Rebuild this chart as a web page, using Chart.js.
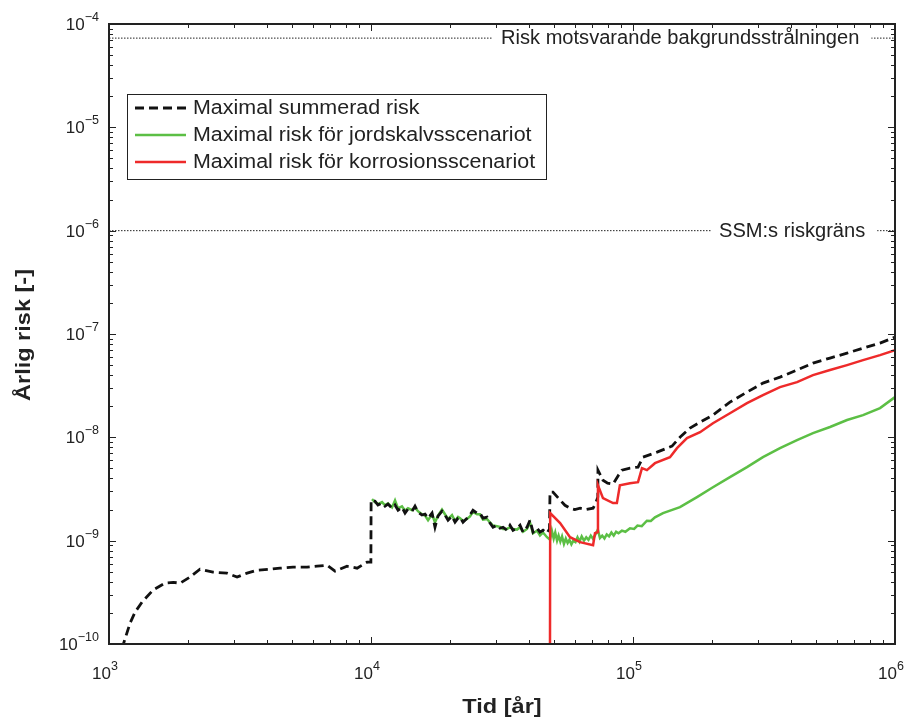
<!DOCTYPE html>
<html>
<head>
<meta charset="utf-8">
<script src="https://cdn.jsdelivr.net/npm/chart.js@4"></script>
<style>
  body { margin: 0; background: #fff; }
  canvas { display: block; }
</style>
</head>
<body>
<canvas id="riskChart" width="908" height="719"></canvas>
<script>
// Maximal summerad risk (black dashed)
const tSum = [1120, 1203, 1257, 1336, 1472, 1636, 1760, 1868, 2038, 2224, 2494, 2820, 3082, 3366, 3675, 4119, 4497, 5038, 5700, 6224, 6795, 7290, 8100, 8850, 9660, 9990,
  10010, 10090, 10360, 10630, 11020, 11310, 11610, 12030, 12350, 12680, 13130, 13490, 13840, 14340, 14720, 15110, 15650, 16080, 16510, 17100, 17550, 18020, 18660, 19160, 19680,
  20380, 20930, 21490, 21870, 22450, 23250, 23870, 24510, 25390, 26060, 26760, 27720, 28460, 29220, 30260, 31070, 31900, 33040, 33920, 34840, 36080, 37050, 38040, 39390,
  40450, 41530, 43020, 44160, 45350, 46970, 48000, 48220, 49500, 52700, 55000, 57500, 60000, 62800, 66000, 70400, 72000, 73400, 73500, 76800, 80000, 83900,
  88000, 90700, 97400, 104500, 109200, 123500, 140900, 151100, 165100, 180300, 201900, 234400, 272300, 313300, 364000, 422700, 486400, 564900, 656100, 755100, 876800, 1000000];
const rSum = [0.9e-10, 1.59e-10, 2.03e-10, 2.54e-10, 3.32e-10, 3.88e-10, 3.95e-10, 3.88e-10, 4.44e-10, 5.30e-10, 4.96e-10, 4.85e-10, 4.44e-10, 4.85e-10, 5.18e-10, 5.30e-10, 5.42e-10, 5.54e-10, 5.54e-10, 5.66e-10, 5.79e-10, 5.07e-10, 5.66e-10, 5.42e-10, 6.19e-10, 6.19e-10,
  2.47e-9, 2.47e-9, 2.41e-9, 2.21e-9, 2.31e-9, 2.16e-9, 2.26e-9, 2.06e-9, 2.21e-9, 1.97e-9, 2.11e-9, 1.85e-9, 2.02e-9, 1.93e-9, 2.16e-9, 1.89e-9, 1.77e-9, 1.81e-9, 1.65e-9, 1.85e-9, 1.35e-9, 1.73e-9, 1.93e-9, 1.77e-9, 1.58e-9,
  1.73e-9, 1.51e-9, 1.65e-9, 1.69e-9, 1.51e-9, 1.65e-9, 1.77e-9, 1.97e-9, 1.85e-9, 1.85e-9, 1.65e-9, 1.69e-9, 1.48e-9, 1.35e-9, 1.41e-9, 1.32e-9, 1.35e-9, 1.26e-9, 1.41e-9, 1.26e-9, 1.32e-9, 1.41e-9, 1.21e-9, 1.35e-9,
  1.58e-9, 1.21e-9, 1.32e-9, 1.21e-9, 1.26e-9, 1.18e-9, 1.30e-9, 2.95e-9, 2.95e-9, 2.47e-9, 2.2e-9, 2.06e-9, 2.0e-9, 2.06e-9, 2.0e-9, 2.06e-9, 2.3e-9, 2.64e-9, 4.81e-9, 3.85e-9, 3.6e-9, 3.52e-9,
  4.3e-9, 4.81e-9, 5.03e-9, 5.15e-9, 6.43e-9, 7.19e-9, 8.22e-9, 1.0e-8, 1.23e-8, 1.40e-8, 1.64e-8, 2.19e-8, 2.74e-8, 3.35e-8, 3.83e-8, 4.48e-8, 5.23e-8, 5.85e-8, 6.53e-8, 7.30e-8, 8.17e-8, 9.33e-8];

// Maximal risk för jordskalvsscenariot (green)
const tQuake = [10090, 10360, 10630, 11020, 11310, 11610, 12030, 12350, 12680, 13130, 13490, 13840, 14340, 14720, 15110, 15650, 16080, 16510, 17100, 17550, 18020, 18660, 19160, 19680,
  20380, 20930, 21490, 21870, 22450, 23250, 23870, 24510, 25390, 26060, 26760, 27720, 28460, 29220, 30260, 31070, 31900, 33040, 33920, 34840, 36080, 37050, 38040, 39390,
  40450, 41530, 43020, 44160, 45350, 46970, 48220, 49000, 49800, 50500, 51300, 52000, 52800, 53600, 54500, 55400, 56300, 57200, 58200, 59200, 60300, 61400, 62500, 63700,
  65000, 66300, 67600, 69000, 70400, 71800, 73400, 74800, 76300, 77800, 79400, 81000, 82700, 84400, 86200, 88000, 90700, 93500, 97400, 101000, 104000, 108000, 113000, 117000,
  121300, 130200, 151100, 175500, 201900, 234400, 272300, 313300, 364000, 422700, 486400, 564900, 656100, 755100, 876800, 1000000];
const rQuake = [2.52e-9, 2.35e-9, 2.26e-9, 2.36e-9, 2.2e-9, 2.3e-9, 2.1e-9, 2.45e-9, 2.05e-9, 2.15e-9, 1.95e-9, 2.06e-9, 1.97e-9, 2.1e-9, 1.93e-9, 1.8e-9, 1.75e-9, 1.58e-9, 1.8e-9, 1.5e-9, 1.75e-9, 2.0e-9, 1.8e-9, 1.62e-9,
  1.77e-9, 1.55e-9, 1.7e-9, 1.65e-9, 1.55e-9, 1.62e-9, 1.72e-9, 1.9e-9, 1.8e-9, 1.8e-9, 1.6e-9, 1.62e-9, 1.5e-9, 1.4e-9, 1.38e-9, 1.36e-9, 1.3e-9, 1.3e-9, 1.35e-9, 1.3e-9, 1.28e-9, 1.35e-9, 1.22e-9, 1.3e-9,
  1.5e-9, 1.18e-9, 1.25e-9, 1.12e-9, 1.2e-9, 1.08e-9, 1.02e-9, 1.25e-9, 1.05e-9, 1.2e-9, 1.0e-9, 1.12e-9, 0.98e-9, 1.1e-9, 0.93e-9, 1.05e-9, 0.95e-9, 1.02e-9, 0.92e-9, 1.0e-9, 0.97e-9, 1.08e-9, 0.98e-9, 1.1e-9,
  1.0e-9, 1.08e-9, 1.02e-9, 1.12e-9, 1.04e-9, 1.14e-9, 1.28e-9, 1.06e-9, 1.12e-9, 1.05e-9, 1.15e-9, 1.1e-9, 1.2e-9, 1.12e-9, 1.22e-9, 1.18e-9, 1.25e-9, 1.22e-9, 1.32e-9, 1.3e-9, 1.4e-9, 1.38e-9, 1.56e-9, 1.55e-9,
  1.68e-9, 1.85e-9, 2.11e-9, 2.64e-9, 3.29e-9, 4.12e-9, 5.15e-9, 6.43e-9, 7.86e-9, 9.40e-9, 1.10e-8, 1.26e-8, 1.47e-8, 1.64e-8, 1.92e-8, 2.45e-8];

// Maximal risk för korrosionsscenariot (red)
const tCorr = [48200, 48300, 52700, 57500, 62800, 70400, 71600, 73400, 73500, 76800, 83900, 86800, 89100, 97400, 104500, 108200, 113000, 121300, 138400, 147200, 160700, 180300,
  201900, 234400, 272300, 313300, 364000, 422700, 486400, 564900, 656100, 755100, 876800, 1000000];
const rCorr = [5e-11, 1.85e-9, 1.48e-9, 1.08e-9, 9.68e-10, 9.04e-10, 1.18e-9, 1.21e-9, 3.44e-9, 2.58e-9, 2.31e-9, 2.31e-9, 3.44e-9, 3.60e-9, 3.68e-9, 5.03e-9, 4.81e-9, 5.62e-9, 6.43e-9, 7.86e-9, 9.82e-9, 1.12e-8,
  1.37e-8, 1.71e-8, 2.14e-8, 2.56e-8, 3.06e-8, 3.42e-8, 4.00e-8, 4.48e-8, 5.00e-8, 5.59e-8, 6.25e-8, 6.98e-8];

// reference levels
const refLabels = ['Risk motsvarande bakgrundsstrålningen', 'SSM:s riskgräns'];
const refValues = [7.3e-5, 1e-6];

const seriesNames = ['Maximal summerad risk', 'Maximal risk för jordskalvsscenariot', 'Maximal risk för korrosionsscenariot'];
const xExps = [3, 4, 5, 6];
const yExps = [-4, -5, -6, -7, -8, -9, -10];

const toPts = (t, r) => t.map((v, i) => ({ x: v, y: r[i] }));
const FONT = '"Liberation Sans", Arial, sans-serif';

// text with a little horizontal stretch, like the original figure
function wideText(ctx, txt, x, y, sx) {
  ctx.save();
  ctx.translate(x, y);
  ctx.scale(sx, 1);
  ctx.fillText(txt, 0, 0);
  ctx.restore();
}

const framePlugin = {
  id: 'frame',
  afterDatasetsDraw(chart) {
    const ctx = chart.ctx;
    const a = chart.chartArea;
    const xs = chart.scales.x, ys = chart.scales.y;
    ctx.save();

    // reference line labels on white
    ctx.font = '19.5px ' + FONT;
    ctx.textBaseline = 'middle';
    ctx.textAlign = 'left';
    const refStart = [501, 719];
    refLabels.forEach((lab, i) => {
      const y = ys.getPixelForValue(refValues[i]);
      const w = ctx.measureText(lab).width * 1.03;
      ctx.fillStyle = '#fff';
      ctx.fillRect(refStart[i] - 8, y - 10, w + 20, 20);
      ctx.fillStyle = '#222';
      wideText(ctx, lab, refStart[i], y + 1, 1.03);
    });

    // ticks inward on all sides
    ctx.strokeStyle = '#222';
    ctx.lineWidth = 1;
    ctx.beginPath();
    for (let e = 3; e < 6; e++) {
      for (let m = 1; m < 10; m++) {
        const px = Math.round(xs.getPixelForValue(m * Math.pow(10, e))) + 0.5;
        const len = m === 1 ? 7 : 4;
        ctx.moveTo(px, a.bottom); ctx.lineTo(px, a.bottom - len);
        ctx.moveTo(px, a.top); ctx.lineTo(px, a.top + len);
      }
    }
    for (let e = -10; e < -4; e++) {
      for (let m = 1; m < 10; m++) {
        const py = Math.round(ys.getPixelForValue(m * Math.pow(10, e))) + 0.5;
        const len = m === 1 ? 7 : 4;
        ctx.moveTo(a.left, py); ctx.lineTo(a.left + len, py);
        ctx.moveTo(a.right, py); ctx.lineTo(a.right - len, py);
      }
    }
    ctx.stroke();

    // frame
    ctx.lineWidth = 2;
    ctx.strokeRect(a.left, a.top, a.right - a.left, a.bottom - a.top);

    // tick labels
    ctx.fillStyle = '#222';
    ctx.textBaseline = 'alphabetic';
    yExps.forEach(e => {
      const py = ys.getPixelForValue(Math.pow(10, e));
      ctx.font = '12.5px ' + FONT;
      const sup = '\u2212' + Math.abs(e);
      const sw = ctx.measureText(sup).width;
      ctx.textAlign = 'right';
      ctx.fillText(sup, a.left - 10, py - 3);
      ctx.font = '17px ' + FONT;
      ctx.fillText('10', a.left - 10 - sw, py + 6);
    });
    xExps.forEach(e => {
      const px = xs.getPixelForValue(Math.pow(10, e));
      ctx.font = '17px ' + FONT;
      ctx.textAlign = 'right';
      ctx.fillText('10', px + 2, a.bottom + 35);
      ctx.font = '12.5px ' + FONT;
      ctx.textAlign = 'left';
      ctx.fillText(String(e), px + 2, a.bottom + 26);
    });

    // axis titles
    ctx.font = 'bold 21px ' + FONT;
    ctx.textAlign = 'center';
    wideText(ctx, 'Tid [år]', (a.left + a.right) / 2, 713, 1.12);
    ctx.save();
    ctx.translate(30, 335);
    ctx.rotate(-Math.PI / 2);
    ctx.scale(1.12, 1);
    ctx.fillText('Årlig risk [-]', 0, 0);
    ctx.restore();

    // legend
    ctx.fillStyle = '#fff';
    ctx.fillRect(127, 94, 419, 85);
    ctx.lineWidth = 1;
    ctx.strokeStyle = '#222';
    ctx.strokeRect(127.5, 94.5, 419, 85);
    const ds = chart.data.datasets;
    [0, 1, 2].forEach(i => {
      const y = 108 + i * 27;
      ctx.strokeStyle = ds[i].borderColor;
      ctx.lineWidth = ds[i].borderWidth;
      ctx.setLineDash(ds[i].borderDash || []);
      ctx.beginPath();
      ctx.moveTo(135, y); ctx.lineTo(186, y);
      ctx.stroke();
      ctx.setLineDash([]);
      ctx.fillStyle = '#222';
      ctx.font = '19.5px ' + FONT;
      ctx.textAlign = 'left';
      ctx.textBaseline = 'middle';
      wideText(ctx, seriesNames[i], 193, y + 1, 1.1);
    });
    ctx.restore();
  }
};

new Chart(document.getElementById('riskChart'), {
  type: 'line',
  data: {
    datasets: [
      { label: seriesNames[0], data: toPts(tSum, rSum), borderColor: '#111', borderWidth: 2.8, borderDash: [9, 5], order: 2 },
      { label: seriesNames[1], data: toPts(tQuake, rQuake), borderColor: '#5cbf45', borderWidth: 2.5, order: 3 },
      { label: seriesNames[2], data: toPts(tCorr, rCorr), borderColor: '#ee2a2a', borderWidth: 2.5, order: 1 },
      { label: refLabels[0], data: [{ x: 1000, y: refValues[0] }, { x: 1e6, y: refValues[0] }], borderColor: '#222', borderWidth: 1, borderDash: [1.5, 1.5], order: 5 },
      { label: refLabels[1], data: [{ x: 1000, y: refValues[1] }, { x: 1e6, y: refValues[1] }], borderColor: '#222', borderWidth: 1, borderDash: [1.5, 1.5], order: 5 }
    ]
  },
  options: {
    responsive: false,
    animation: false,
    devicePixelRatio: 1,
    elements: { point: { radius: 0 }, line: { tension: 0 } },
    layout: { padding: { left: 109, top: 24, right: 13, bottom: 75 } },
    plugins: { legend: { display: false }, tooltip: { enabled: false } },
    scales: {
      x: { type: 'logarithmic', min: 1000, max: 1e6, display: false },
      y: { type: 'logarithmic', min: 1e-10, max: 1e-4, display: false }
    }
  },
  plugins: [framePlugin]
});
</script>
</body>
</html>
